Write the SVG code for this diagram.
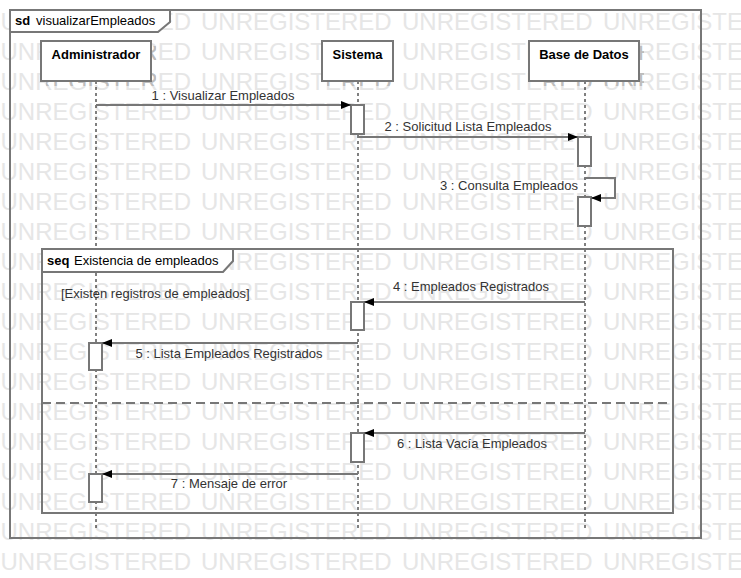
<svg xmlns="http://www.w3.org/2000/svg" xmlns:xlink="http://www.w3.org/1999/xlink" width="741" height="578" viewBox="0 0 741 578">
<style>
text{font-family:"Liberation Sans",Arial,sans-serif;}
.wm{font-size:24px;}
.frame{fill:none;stroke:#777;stroke-width:2;}
.tab{fill:#fff;stroke:#777;stroke-width:2;}
.box{fill:#fff;stroke:#777;stroke-width:2;}
.act{fill:#fff;stroke:#777;stroke-width:2;}
.life{stroke:#000;stroke-width:1;stroke-dasharray:3,3;fill:none;}
.msg{fill:none;stroke:#777;stroke-width:2;marker-end:url(#arr);}
.name{font-size:13px;font-weight:bold;fill:#000;text-anchor:middle;}
.lbl{font-size:13px;fill:#333;text-anchor:middle;}
.tabt{font-size:13px;fill:#000;}
.b{font-weight:bold;}
</style>
<defs>
<marker id="arr" markerUnits="userSpaceOnUse" markerWidth="11" markerHeight="9" refX="10" refY="4" orient="auto">
<path d="M0,0 L10,4 L0,8 Z" fill="#000"/>
</marker>
<g id="wrow" class="wm">
<text x="0.5" y="0">UNREGISTERED</text>
<text x="201" y="0">UNREGISTERED</text>
<text x="402" y="0">UNREGISTERED</text>
<text x="603" y="0">UNREGISTERED</text>
</g>
<g id="wall">
<use xlink:href="#wrow" y="30"/><use xlink:href="#wrow" y="60"/><use xlink:href="#wrow" y="90"/>
<use xlink:href="#wrow" y="120"/><use xlink:href="#wrow" y="150"/><use xlink:href="#wrow" y="180"/>
<use xlink:href="#wrow" y="210"/><use xlink:href="#wrow" y="240"/><use xlink:href="#wrow" y="270"/>
<use xlink:href="#wrow" y="300"/><use xlink:href="#wrow" y="330"/><use xlink:href="#wrow" y="360"/>
<use xlink:href="#wrow" y="390"/><use xlink:href="#wrow" y="420"/><use xlink:href="#wrow" y="450"/>
<use xlink:href="#wrow" y="480"/><use xlink:href="#wrow" y="510"/><use xlink:href="#wrow" y="540"/>
<use xlink:href="#wrow" y="570"/>
</g>
<clipPath id="shadow">
<rect x="46" y="81" width="110" height="5"/><rect x="151" y="46" width="5" height="40"/>
<rect x="327" y="81" width="71" height="5"/><rect x="393" y="46" width="5" height="40"/>
<rect x="534" y="81" width="110" height="5"/><rect x="639" y="46" width="5" height="40"/>
</clipPath>
</defs>
<rect width="741" height="578" fill="#fff"/>
<g id="watermark">
<use xlink:href="#wall" fill="#e6e6e6"/>
<use xlink:href="#wall" fill="#bdbdbd" clip-path="url(#shadow)"/>
</g>
<g id="frame-sd">
<rect class="frame" x="10" y="10" width="691" height="528"/>
<path class="tab" d="M10,10 H170 V22 L158,32 H10 Z"/>
<text class="tabt" x="15" y="25"><tspan class="b">sd</tspan></text>
<text class="tabt" x="36" y="25">visualizarEmpleados</text>
</g>
<g id="lifelines">
<line class="life" x1="96" y1="81" x2="96" y2="528"/>
<line class="life" x1="358" y1="81" x2="358" y2="528"/>
<line class="life" x1="585" y1="81" x2="585" y2="528"/>
</g>
<g id="node-administrador">
<rect class="box" x="41" y="41" width="110" height="40"/>
<text class="name" x="96" y="59">Administrador</text>
</g>
<g id="node-sistema">
<rect class="box" x="322" y="41" width="71" height="40"/>
<text class="name" x="357.5" y="59">Sistema</text>
</g>
<g id="node-basededatos">
<rect class="box" x="529" y="41" width="110" height="40"/>
<text class="name" x="584" y="59">Base de Datos</text>
</g>
<g id="frame-seq">
<rect class="frame" x="42" y="249" width="631" height="264"/>
<path class="tab" d="M42,249 H233 V261 L223,272 H42 Z"/>
<text class="tabt" x="47" y="265"><tspan class="b">seq</tspan></text>
<text class="tabt" x="74" y="265">Existencia de empleados</text>
<line x1="42" y1="403" x2="673" y2="403" stroke="#777" stroke-width="2" stroke-dasharray="9,5"/>
<text class="tabt" x="61" y="298" style="fill:#333">[Existen registros de empleados]</text>
</g>
<g id="activations">
<rect class="act" x="351" y="105" width="13" height="29"/>
<rect class="act" x="578" y="137" width="13" height="29"/>
<rect class="act" x="578" y="197" width="13" height="29"/>
<rect class="act" x="351" y="302" width="13" height="28"/>
<rect class="act" x="89" y="343" width="13" height="27"/>
<rect class="act" x="351" y="433" width="13" height="29"/>
<rect class="act" x="89" y="474" width="13" height="28"/>
</g>
<g id="connectors">
<path class="msg" d="M96,105 H351"/>
<path class="msg" d="M358,137 H578"/>
<path class="msg" d="M585,178 H615 V198 H591"/>
<path class="msg" d="M585,302 H364"/>
<path class="msg" d="M358,343 H102"/>
<path class="msg" d="M585,433 H364"/>
<path class="msg" d="M358,474 H102"/>
<text class="lbl" x="223" y="100">1 : Visualizar Empleados</text>
<text class="lbl" x="468" y="131">2 : Solicitud Lista Empleados</text>
<text class="lbl" x="578" y="190" style="text-anchor:end">3 : Consulta Empleados</text>
<text class="lbl" x="471" y="291">4 : Empleados Registrados</text>
<text class="lbl" x="229" y="358">5 : Lista Empleados Registrados</text>
<text class="lbl" x="472" y="448">6 : Lista Vacía Empleados</text>
<text class="lbl" x="229" y="488">7 : Mensaje de error</text>
</g>
</svg>
